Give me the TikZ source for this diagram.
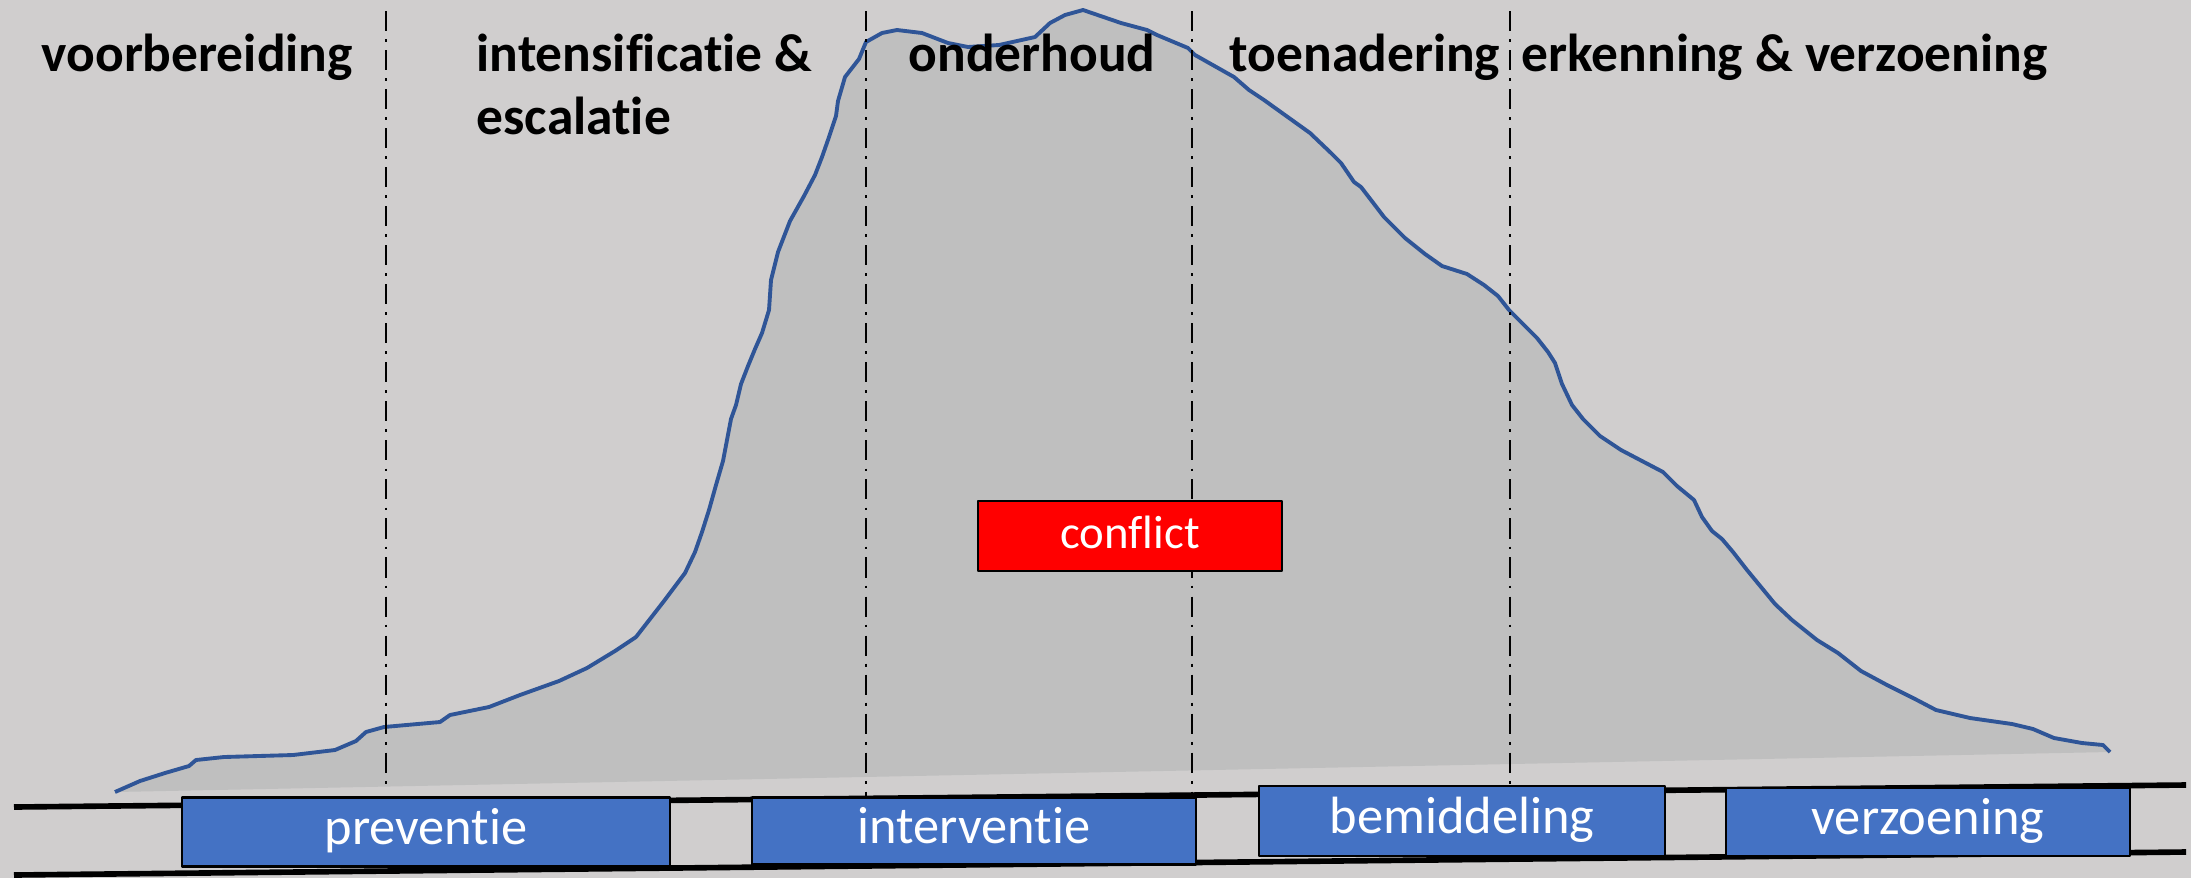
\documentclass[tikz,border=0pt]{standalone}
\usepackage{fontspec}
\setmainfont{Carlito}[Ligatures=NoCommon]
\usetikzlibrary{positioning}

\definecolor{achtergrond}{HTML}{D0CECE}
\definecolor{heuvel}{HTML}{BFBFBF}
\definecolor{lijnblauw}{HTML}{2F5597}
\definecolor{blokblauw}{HTML}{4472C4}
\definecolor{rood}{HTML}{FF0000}

% verloop van het conflict (in pixels)
\newcommand{\golf}{(115,792) -- (140,781) -- (165,773) -- (189,766) -- (196,760) -- (224,757) -- (293,755) -- (335,750) -- (356,741) -- (366,732) -- (384,727) -- (440,722) -- (450,715) -- (489,707) -- (520,695) -- (559,681) -- (587,668) -- (615,651) -- (636,637) -- (650,619) -- (664,601) -- (685,573) -- (695,552) -- (702,532) -- (709,510) -- (716,485) -- (723,461) -- (727,440) -- (731,419) -- (736,405) -- (741,384) -- (748,366) -- (755,349) -- (762,333) -- (769,310) -- (771,280) -- (778,252) -- (790,221) -- (804,196) -- (815,175) -- (822,157) -- (829,137) -- (836,116) -- (838,101) -- (845,77) -- (859,59) -- (866,42) -- (882,33) -- (897,30) -- (922,33) -- (948,43) -- (968,47) -- (999,45) -- (1035,37) -- (1050,23) -- (1065,15) -- (1083,10) -- (1121,23) -- (1147,30) -- (1157,35) -- (1188,48) -- (1195,55) -- (1234,77) -- (1249,90) -- (1264,100) -- (1310,133) -- (1331,153) -- (1341,163) -- (1354,182) -- (1361,187) -- (1371,200) -- (1384,217) -- (1405,238) -- (1425,254) -- (1442,266) -- (1467,274) -- (1484,285) -- (1498,296) -- (1509,310) -- (1523,324) -- (1537,338) -- (1548,352) -- (1555,363) -- (1562,384) -- (1572,405) -- (1583,419) -- (1600,436) -- (1621,450) -- (1642,461) -- (1663,472) -- (1677,486) -- (1694,500) -- (1702,517) -- (1712,531) -- (1722,539) -- (1733,552) -- (1747,570) -- (1761,587) -- (1775,604) -- (1792,620) -- (1817,640) -- (1838,653) -- (1861,671) -- (1887,685) -- (1915,699) -- (1936,710) -- (1970,718) -- (2012,724) -- (2033,729) -- (2054,738) -- (2082,743) -- (2103,745) -- (2110,752)}

\begin{document}
\begin{tikzpicture}[x=0.01cm,y=-0.01cm,line join=round]
	\tikzstyle{fase}=[anchor=base west, inner sep=0pt, align=left, font=\fontsize{15.2pt}{17.9pt}\selectfont\bfseries]
	\tikzstyle{blok}=[draw=black, fill=blokblauw, text=white, line width=0.6pt, inner sep=0pt, text height=0.72em, text depth=0pt, font=\fontsize{14.9pt}{18pt}\selectfont]
	\tikzstyle{grens}=[line width=0.6pt, dash pattern=on 5.7pt off 2.3pt on 0.8pt off 2.3pt]
	\tikzstyle{balk}=[line width=1.6pt]
	
	\fill[achtergrond] (0,0) rectangle (2191,878);
	\useasboundingbox (0,0) rectangle (2191,878);
	
	\fill[heuvel] \golf -- cycle;
	\draw[lijnblauw, line width=1.1pt] \golf;
	
	\foreach \x/\y in {386/790, 866/797, 1192/797, 1510/785}
		\draw[grens] (\x,11) -- (\x,\y);
	
	\node[fase] (1) at (41,71)   {voorbereiding};
	\node[fase] (2) at (476,134) {intensificatie \&\\escalatie};
	\node[fase] (3) at (908,71)  {onderhoud};
	\node[fase] (4) at (1229,71) {toenadering};
	\node[fase] (5) at (1521,71) {erkenning \& verzoening};
	
	\draw[balk] (14,807) -- (2186,785);
	\draw[balk] (14,875) -- (2186,852);
	
	\node[blok, minimum width=4.88cm, minimum height=0.69cm] (6) at (426,832)  {preventie};
	\node[blok, minimum width=4.43cm, minimum height=0.67cm] (7) at (974,831)  {interventie};
	\node[blok, minimum width=4.05cm, minimum height=0.70cm] (8) at (1462,821) {bemiddeling};
	\node[blok, minimum width=4.04cm, minimum height=0.68cm] (9) at (1928,822) {verzoening};
	
	\node[blok, fill=rood, minimum width=3.04cm, minimum height=0.70cm, font=\fontsize{13.3pt}{16pt}\selectfont] (10) at (1130,536) {conflict};
	
\end{tikzpicture}
\end{document}
